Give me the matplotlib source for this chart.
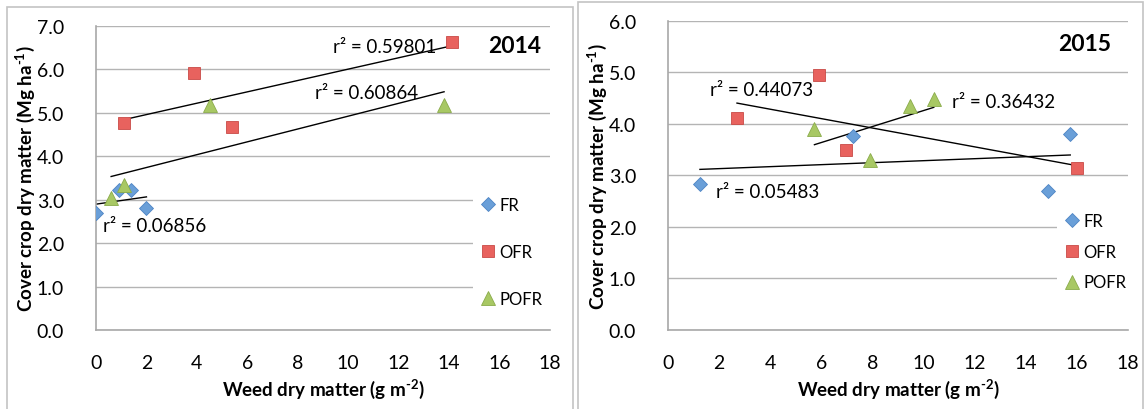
import numpy as np
import matplotlib.pyplot as plt
from matplotlib.patches import Rectangle
from matplotlib.ticker import FormatStrFormatter

plt.rcParams['font.family'] = ['Lato', 'DejaVu Sans']

series = ["FR", "OFR", "POFR"]
colors = ["#6a9fd8", "#e8625e", "#a8c864"]
edges = ["#4d84c4", "#c94a46", "#8aab4a"]
markers = ["D", "s", "^"]
msizes = [7, 8.5, 9.5]

# 2014
x14 = {"FR": [0.0, 0.9, 1.4, 2.0],
       "OFR": [1.1, 3.9, 5.4, 14.1],
       "POFR": [0.6, 1.1, 4.5, 13.8]}
y14 = {"FR": [2.70, 3.22, 3.22, 2.81],
       "OFR": [4.77, 5.92, 4.68, 6.63],
       "POFR": [3.04, 3.34, 5.18, 5.18]}
r2_14 = {"FR": "0.06856", "OFR": "0.59801", "POFR": "0.60864"}
r2pos_14 = {"FR": (0.26, 2.40), "OFR": (9.4, 6.52), "POFR": (8.7, 5.48)}

# 2015
x15 = {"FR": [1.25, 7.22, 14.86, 15.74],
       "OFR": [2.70, 5.91, 6.98, 15.99],
       "POFR": [5.73, 7.90, 9.47, 10.40]}
y15 = {"FR": [2.84, 3.77, 2.70, 3.81],
       "OFR": [4.11, 4.95, 3.50, 3.15],
       "POFR": [3.90, 3.30, 4.34, 4.48]}
r2_15 = {"FR": "0.05483", "OFR": "0.44073", "POFR": "0.36432"}
r2pos_15 = {"FR": (1.88, 2.68), "OFR": (1.64, 4.67), "POFR": (11.1, 4.44)}

W, H = 1146, 410
fig = plt.figure(figsize=(W / 100, H / 100), dpi=100)

# outer chart frames
for (x0, y0, x1) in [(7, 8, 573), (578, 3, 1143)]:
    fig.patches.append(Rectangle((x0 / W, -0.05), (x1 - x0) / W, 1.05 - y0 / H,
                                 transform=fig.transFigure, fill=False,
                                 edgecolor="#c4c4c4", lw=1.2))


def panel(rect, xs, ys, r2, r2pos, ymax, year, yearpos, leg_anchor, leg_space):
    l, t, r, b = rect
    ax = fig.add_axes([l / W, 1 - b / H, (r - l) / W, (b - t) / H])
    ax.set_xlim(0, 18)
    ax.set_ylim(0, ymax)
    ax.set_xticks(np.arange(0, 19, 2))
    ax.set_yticks(np.arange(0, ymax + 0.1, 1.0))
    ax.yaxis.set_major_formatter(FormatStrFormatter("%.1f"))
    ax.tick_params(length=0, labelsize=14)
    ax.tick_params(axis="y", pad=23)
    ax.tick_params(axis="x", pad=17)
    ax.grid(axis="y", color="#b4b4b4", lw=1)
    ax.set_axisbelow(True)
    for s in ["top", "right"]:
        ax.spines[s].set_visible(False)
    for s in ["left", "bottom"]:
        ax.spines[s].set_color("#a8a8a8")
        ax.spines[s].set_linewidth(1.2)
    handles = []
    for i, name in enumerate(series):
        h, = ax.plot(xs[name], ys[name], ls="none", marker=markers[i], ms=msizes[i],
                     mfc=colors[i], mec=edges[i], mew=0.6, label=name, zorder=3)
        handles.append(h)
        k, c = np.polyfit(xs[name], ys[name], 1)
        xl = np.array([min(xs[name]), max(xs[name])])
        ax.plot(xl, k * xl + c, color="black", lw=1, zorder=2)
        ax.text(r2pos[name][0], r2pos[name][1], "r\u00b2 = " + r2[name],
                fontsize=13.5, ha="left", va="center")
    ax.text(yearpos[0], yearpos[1], year, fontsize=16.5, fontweight="bold",
            ha="center", va="center")
    ax.set_xlabel("Weed dry matter (g m$^{\\mathregular{\u20102}}$)",
                  fontsize=13.5, fontweight="bold", labelpad=4)
    ax.set_ylabel("Cover crop dry matter (Mg ha$^{\\mathregular{\u20101}}$)", fontsize=13.5,
                  fontweight="bold", labelpad=0)
    ax.legend(handles=handles, loc="upper left", bbox_to_anchor=leg_anchor,
              frameon=True, facecolor="white", edgecolor="none", framealpha=1,
              fancybox=False, fontsize=12, handlelength=0.8, handletextpad=0.3,
              labelspacing=leg_space, borderpad=0.5, borderaxespad=0)
    return ax


panel((96, 27, 550, 331), x14, y14, r2_14, r2pos_14, 7, "2014", (16.6, 6.55),
      (0.83, 0.465), 1.85)
panel((668, 21.7, 1128, 331), x15, y15, r2_15, r2pos_15, 6, "2015", (16.3, 5.56),
      (0.845, 0.405), 0.88)

fig.savefig("out.png", dpi=100, facecolor="white")
